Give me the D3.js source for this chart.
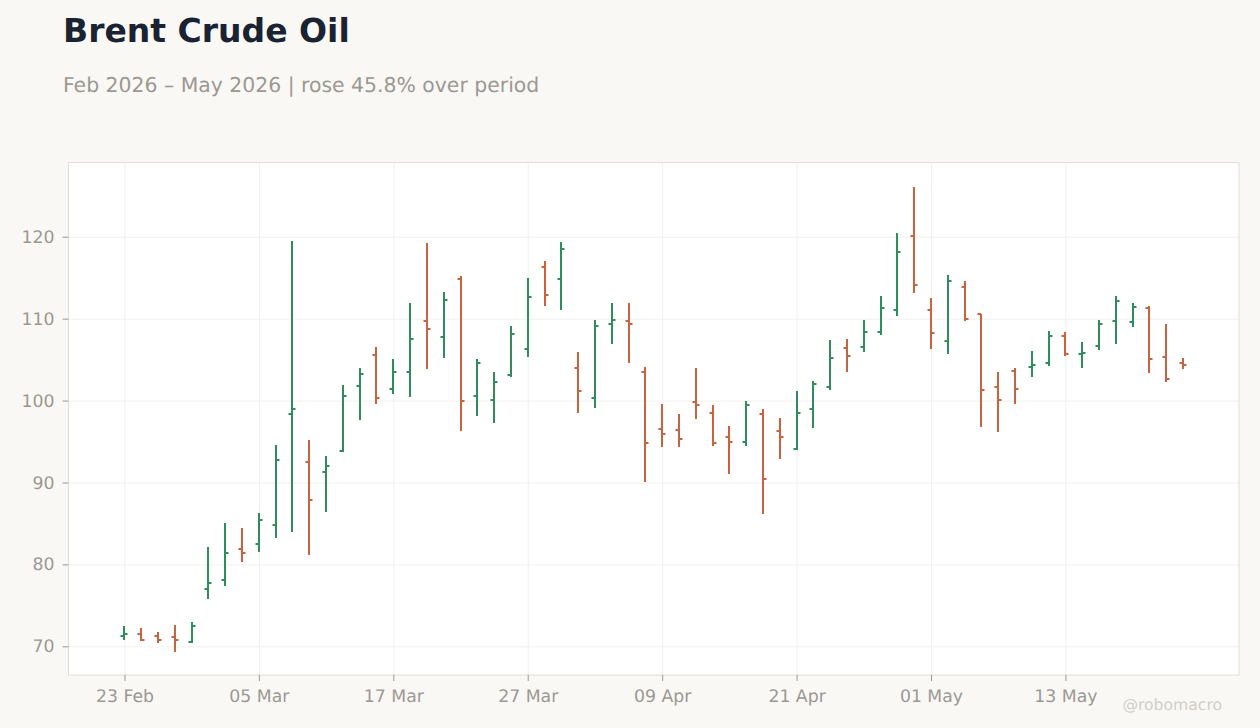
<!DOCTYPE html>
<html>
<head>
<meta charset="utf-8">
<script src="https://cdn.jsdelivr.net/npm/d3@7"></script>
<style>
  html, body { margin: 0; padding: 0; background: #faf8f5; }
  svg { display: block; font-family: "DejaVu Sans", sans-serif; text-rendering: geometricPrecision; }
</style>
</head>
<body>
<div id="chart"></div>
<script>
// trading days, Feb 2026 to May 2026
const dates = [
    '23 Feb', '24 Feb', '25 Feb', '26 Feb', '27 Feb',
    '02 Mar', '03 Mar', '04 Mar', '05 Mar', '06 Mar',
    '09 Mar', '10 Mar', '11 Mar', '12 Mar', '13 Mar',
    '16 Mar', '17 Mar', '18 Mar', '19 Mar', '20 Mar',
    '23 Mar', '24 Mar', '25 Mar', '26 Mar', '27 Mar',
    '30 Mar', '31 Mar', '01 Apr', '02 Apr',
    '06 Apr', '07 Apr', '08 Apr', '09 Apr', '10 Apr',
    '13 Apr', '14 Apr', '15 Apr', '16 Apr', '17 Apr',
    '20 Apr', '21 Apr', '22 Apr', '23 Apr', '24 Apr',
    '27 Apr', '28 Apr', '29 Apr', '30 Apr', '01 May',
    '04 May', '05 May', '06 May', '07 May', '08 May',
    '11 May', '12 May', '13 May', '14 May', '15 May',
    '18 May', '19 May', '20 May', '21 May', '22 May'
]

const opens = [
    71.26, 71.54, 71.26, 71.13, 70.52, 77.0, 78.09, 81.87, 82.48, 84.79,
    98.33, 92.48, 91.26, 93.82, 101.74, 105.52, 101.38, 103.45, 109.67, 107.72,
    114.9, 100.52, 100.04, 103.09, 106.26, 116.26, 114.8, 103.94, 100.28, 109.3,
    109.67, 103.45, 96.5, 96.38, 99.79, 98.45, 95.52, 94.91, 98.33, 96.26,
    94.06, 98.94, 101.62, 106.38, 106.5, 108.33, 111.01, 120.04, 111.01, 107.23,
    113.82, 110.52, 101.62, 103.57, 104.06, 104.55, 107.84, 105.65, 106.62, 109.67,
    109.55, 111.26, 105.28, 104.55
]
const highs = [
    72.48, 72.23, 71.74, 72.6, 72.96, 82.11, 85.04, 84.43, 86.26, 94.55,
    119.43, 95.16, 93.2, 101.87, 103.94, 106.5, 105.04, 111.87, 119.18, 113.2,
    115.16, 105.04, 103.45, 109.06, 114.92, 116.99, 119.3, 105.9, 109.8, 111.87,
    111.87, 104.06, 99.55, 98.33, 103.94, 99.43, 96.87, 99.91, 98.94, 97.84,
    101.13, 102.35, 107.35, 107.47, 109.8, 112.72, 120.4, 126.13, 112.48, 115.28,
    114.55, 110.52, 103.45, 103.94, 106.01, 108.45, 108.33, 107.11, 109.8, 112.72,
    111.87, 111.5, 109.3, 105.16
]
const lows = [
    70.77, 70.65, 70.4, 69.3, 70.4, 75.77, 77.35, 80.28, 81.5, 83.2,
    83.94, 81.13, 86.38, 93.7, 97.6, 99.55, 100.77, 100.4, 103.8, 105.16,
    96.26, 98.09, 97.23, 102.84, 105.28, 111.5, 111.01, 98.45, 99.06, 106.87,
    104.55, 90.04, 94.3, 94.3, 97.72, 94.43, 91.0, 94.43, 86.13, 92.84,
    93.94, 96.62, 101.26, 103.45, 105.89, 107.96, 110.28, 113.09, 106.26, 105.65,
    109.67, 96.74, 96.13, 99.55, 102.84, 104.18, 105.4, 103.94, 106.13, 106.87,
    108.94, 103.33, 102.23, 103.82
]
const closes = [
    71.54, 70.77, 70.77, 70.77, 72.48, 77.72, 81.38, 81.38, 85.4, 92.72,
    98.94, 87.84, 91.99, 100.52, 103.2, 100.28, 103.45, 107.47, 108.7, 112.23,
    99.9, 104.55, 102.23, 108.09, 112.6, 112.84, 118.45, 101.13, 109.06, 109.8,
    109.3, 94.8, 95.9, 95.28, 99.43, 94.8, 94.91, 99.43, 90.4, 95.52,
    98.45, 101.99, 105.16, 105.4, 108.33, 111.26, 118.09, 114.06, 108.2, 114.55,
    109.9, 101.26, 100.04, 101.38, 104.3, 107.84, 105.65, 105.77, 109.3, 112.11,
    111.38, 105.04, 102.6, 104.3
]

const xTicks = ['23 Feb', '05 Mar', '17 Mar', '27 Mar', '09 Apr', '21 Apr', '01 May', '13 May']
const yTicks = [70, 80, 90, 100, 110, 120]

const upColor = '#308c5a'
const downColor = '#c8623f'
const mutedText = '#9b9892'

const width = 1260
const height = 728
const plot = { left: 68.5, right: 1239, top: 162.5, bottom: 675 }

const svg = d3.select('#chart')
    .append('svg')
    .attr('width', width)
    .attr('height', height)

svg.append('rect')
    .attr('width', width)
    .attr('height', height)
    .attr('fill', '#faf8f5')

svg.append('rect')
    .attr('x', plot.left)
    .attr('y', plot.top)
    .attr('width', plot.right - plot.left)
    .attr('height', plot.bottom - plot.top)
    .attr('fill', '#ffffff')

const xScale = d3.scalePoint()
    .domain(dates)
    .range([plot.left, plot.right])
    .padding(3.33)

const yScale = d3.scaleLinear()
    .domain([66.5, 129.06])
    .range([plot.bottom, plot.top])

// gridlines sit under the bars, built with the axis generators
const xGrid = svg.append('g')
    .attr('transform', `translate(0,${plot.bottom})`)
    .call(d3.axisBottom(xScale).tickValues(xTicks).tickSize(plot.top - plot.bottom).tickFormat(''))
xGrid.select('.domain').remove()
xGrid.selectAll('line').attr('stroke', '#f1f0ee')

const yGrid = svg.append('g')
    .attr('transform', `translate(${plot.left},0)`)
    .call(d3.axisLeft(yScale).tickValues(yTicks).tickSize(plot.left - plot.right).tickFormat(''))
yGrid.select('.domain').remove()
yGrid.selectAll('line').attr('stroke', '#f1f0ee')

// plot border
svg.append('rect')
    .attr('x', plot.left)
    .attr('y', plot.top)
    .attr('width', plot.right - plot.left)
    .attr('height', plot.bottom - plot.top)
    .attr('fill', 'none')
    .attr('stroke', '#e2ddd6')

const xAxis = svg.append('g')
    .attr('transform', `translate(0,${plot.bottom})`)
    .call(d3.axisBottom(xScale).tickValues(xTicks).tickSize(6).tickPadding(9))
xAxis.select('.domain').remove()
xAxis.selectAll('line').attr('stroke', mutedText)
xAxis.selectAll('text')
    .attr('fill', mutedText)
    .attr('font-size', 17.3)
    .attr('font-family', '"DejaVu Sans", sans-serif')

const yAxis = svg.append('g')
    .attr('transform', `translate(${plot.left},0)`)
    .call(d3.axisLeft(yScale).tickValues(yTicks).tickSize(6).tickPadding(8))
yAxis.select('.domain').remove()
yAxis.selectAll('line').attr('stroke', mutedText)
yAxis.selectAll('text')
    .attr('fill', mutedText)
    .attr('font-size', 17.3)
    .attr('font-family', '"DejaVu Sans", sans-serif')

// snap to whole pixels so a 2px stroke stays solid
const px = v => Math.round(v)

// one OHLC bar per day: stem, open tick to the left, close tick to the right
const bars = svg.selectAll('.bar')
    .data(dates)
    .enter()
    .append('g')
    .attr('class', 'bar')
    .attr('stroke', (d, i) => closes[i] >= opens[i] ? upColor : downColor)
    .attr('stroke-width', 2)

bars.append('line')
    .attr('x1', d => px(xScale(d)))
    .attr('x2', d => px(xScale(d)))
    .attr('y1', (d, i) => px(yScale(highs[i])))
    .attr('y2', (d, i) => px(yScale(lows[i])))

bars.append('line')
    .attr('x1', d => px(xScale(d)) - 3.5)
    .attr('x2', d => px(xScale(d)))
    .attr('y1', (d, i) => px(yScale(opens[i])))
    .attr('y2', (d, i) => px(yScale(opens[i])))

bars.append('line')
    .attr('x1', d => px(xScale(d)))
    .attr('x2', d => px(xScale(d)) + 3.5)
    .attr('y1', (d, i) => px(yScale(closes[i])))
    .attr('y2', (d, i) => px(yScale(closes[i])))

svg.append('text')
    .attr('x', 63)
    .attr('y', 42)
    .attr('font-size', 33)
    .attr('font-weight', 'bold')
    .attr('fill', '#1a2332')
    .text('Brent Crude Oil')

svg.append('text')
    .attr('x', 63)
    .attr('y', 92)
    .attr('font-size', 20.4)
    .attr('fill', mutedText)
    .text('Feb 2026 – May 2026 | rose 45.8% over period')

svg.append('text')
    .attr('x', 1222)
    .attr('y', 710)
    .attr('text-anchor', 'end')
    .attr('font-size', 15.6)
    .attr('fill', '#d0cec9')
    .text('@robomacro')
</script>
</body>
</html>
